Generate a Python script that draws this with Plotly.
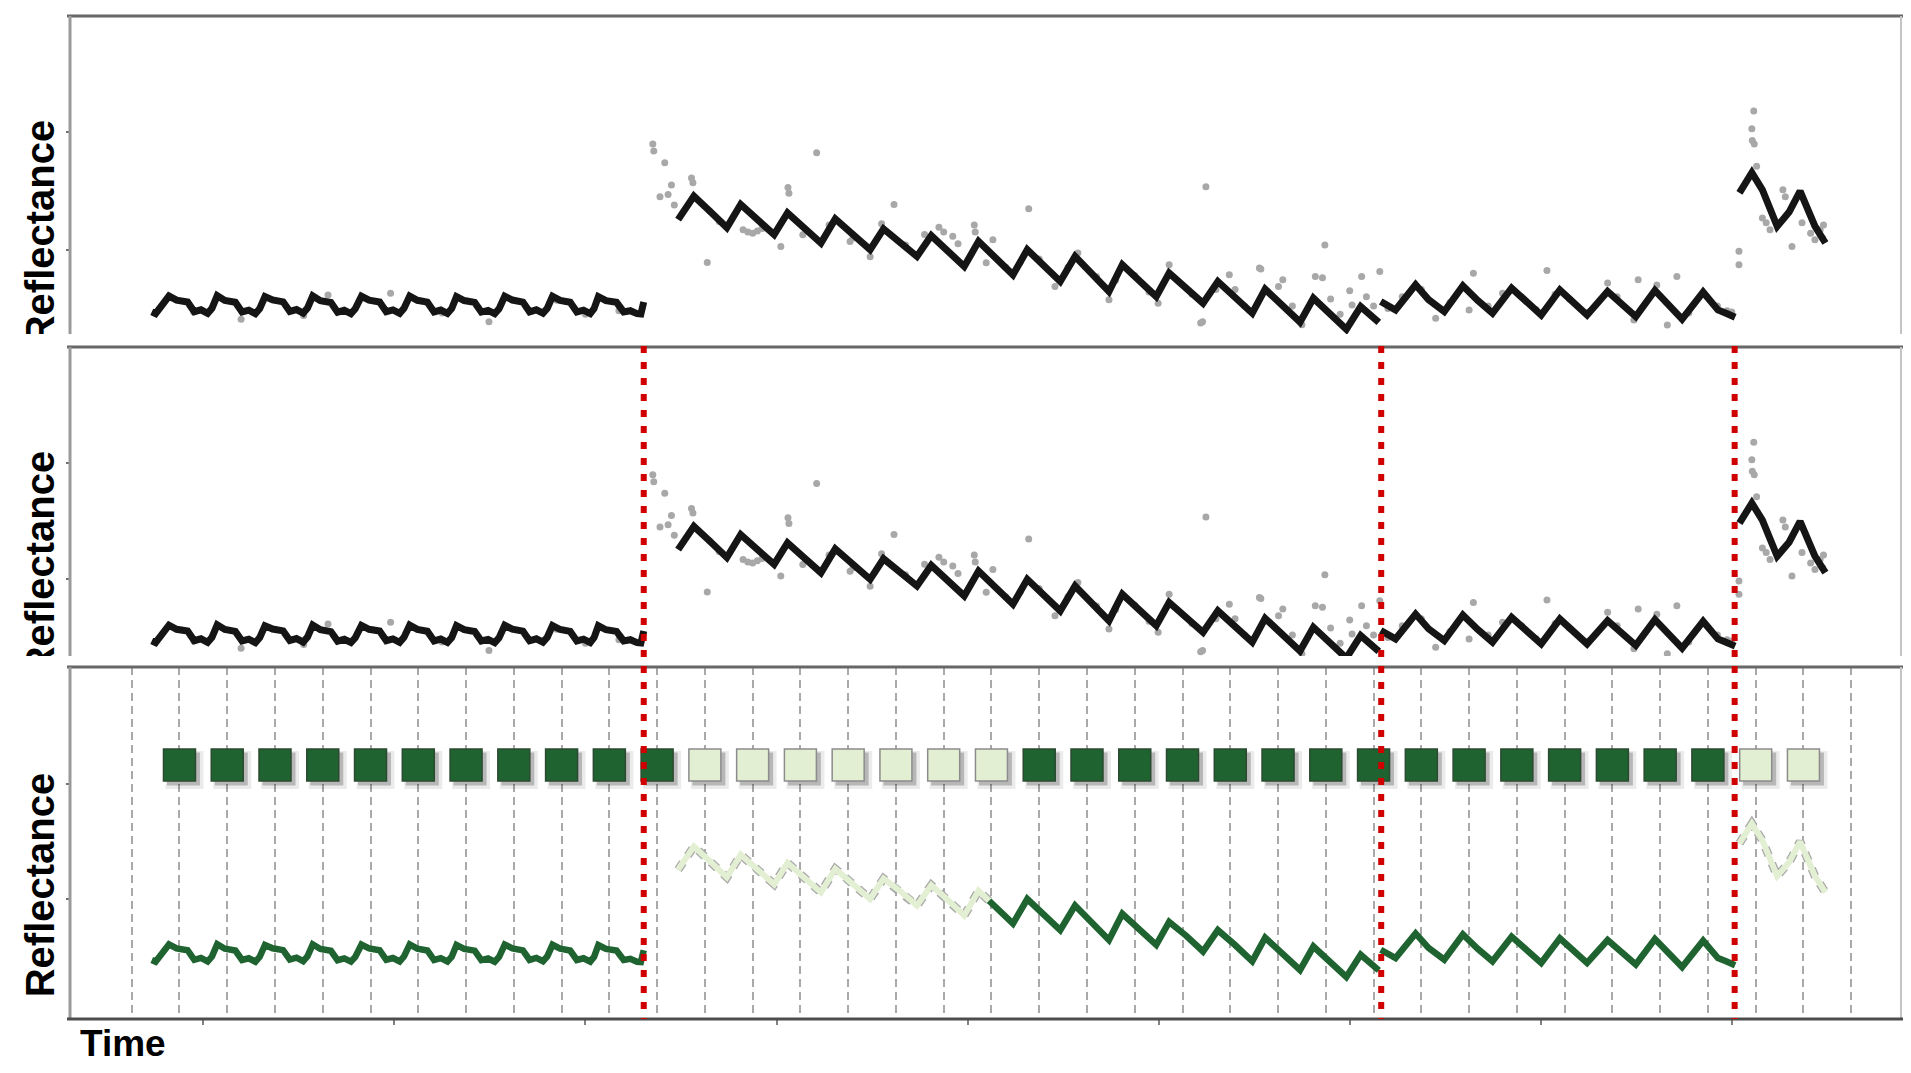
import plotly.graph_objects as go

# ------------------------------------------------------------------ data
# fitted model, segment 1 (stable)
seg1_x = [0.42, 0.50, 0.78, 0.94, 1.17, 1.31, 1.45, 1.59, 1.68,
          1.79, 1.95, 2.17, 2.31, 2.45, 2.59, 2.68,
          2.79, 2.95, 3.17, 3.31, 3.45, 3.59, 3.68,
          3.79, 3.95, 4.17, 4.31, 4.45, 4.59, 4.68,
          4.81, 4.97, 5.19, 5.33, 5.47, 5.61, 5.70,
          5.82, 5.98, 6.19, 6.33, 6.47, 6.61, 6.70,
          6.80, 6.96, 7.18, 7.32, 7.46, 7.60, 7.69,
          7.81, 7.97, 8.19, 8.33, 8.47, 8.61, 8.70,
          8.81, 8.97, 9.18, 9.32, 9.46, 9.60, 9.68,
          9.77, 9.93, 10.15, 10.30, 10.44, 10.58, 10.66, 10.72]
seg1_y = [0.0470, 0.0455, 0.0605, 0.0570, 0.0555, 0.0472, 0.0488, 0.0458, 0.0500,
          0.0608, 0.0568, 0.0552, 0.0470, 0.0485, 0.0455, 0.0498,
          0.0600, 0.0572, 0.0556, 0.0474, 0.0490, 0.0460, 0.0502,
          0.0606, 0.0566, 0.0550, 0.0468, 0.0484, 0.0456, 0.0497,
          0.0603, 0.0570, 0.0555, 0.0472, 0.0487, 0.0458, 0.0500,
          0.0605, 0.0569, 0.0553, 0.0470, 0.0486, 0.0457, 0.0499,
          0.0601, 0.0567, 0.0551, 0.0469, 0.0483, 0.0455, 0.0496,
          0.0604, 0.0571, 0.0554, 0.0471, 0.0488, 0.0459, 0.0501,
          0.0602, 0.0568, 0.0552, 0.0470, 0.0485, 0.0456, 0.0498,
          0.0600, 0.0566, 0.0552, 0.0470, 0.0480, 0.0455, 0.0452, 0.0555]

# segment 2 (disturbance + recovery trend)
seg2_x = [11.44, 11.77, 12.10, 12.46, 12.75, 13.10, 13.45, 13.73, 14.08, 14.43,
          14.73, 15.10, 15.46, 15.74, 16.10, 16.44, 16.74, 17.08, 17.43, 17.73,
          17.95, 18.45, 18.75, 19.10, 19.44, 19.75, 20.10, 20.46, 20.74, 21.10,
          21.45, 21.72, 22.08, 22.43, 22.74, 23.10, 23.46, 23.73, 24.10, 24.46,
          24.74, 25.08, 25.43, 25.73, 26.11]
seg2_y = [0.1256, 0.1456, 0.1330, 0.1188, 0.1385, 0.1262, 0.1128, 0.1314, 0.1190, 0.1057,
          0.1262, 0.1135, 0.1000, 0.1177, 0.1065, 0.0943, 0.1120, 0.0995, 0.0857, 0.1071,
          0.0985, 0.0786, 0.1000, 0.0870, 0.0729, 0.0943, 0.0800, 0.0644, 0.0872, 0.0740,
          0.0601, 0.0801, 0.0680, 0.0544, 0.0729, 0.0600, 0.0459, 0.0664, 0.0525, 0.0383,
          0.0587, 0.0460, 0.0322, 0.0516, 0.0380]

# segment 3 (stable)
seg3_x = [26.15, 26.46, 26.88, 27.15, 27.48, 27.87, 28.18, 28.49, 28.89, 29.20,
          29.51, 29.90, 30.18, 30.47, 30.90, 31.20, 31.49, 31.89, 32.18, 32.46,
          32.90, 33.21, 33.38, 33.57]
seg3_y = [0.0559, 0.0487, 0.0701, 0.0575, 0.0473, 0.0692, 0.0568, 0.0459, 0.0673, 0.0560,
          0.0444, 0.0658, 0.0552, 0.0444, 0.0644, 0.0540, 0.0431, 0.0653, 0.0525, 0.0408,
          0.0638, 0.0487, 0.0459, 0.0425]

# segment 4 (after last break)
seg4_x = [33.66, 33.92, 34.14, 34.45, 34.70, 34.93, 35.24, 35.46]
seg4_y = [0.1484, 0.1656, 0.1510, 0.1199, 0.1320, 0.1499, 0.1200, 0.1057]

# observations (grey points)
obs_x = [1.30, 2.29, 3.60, 4.11, 5.42, 6.50, 7.48, 8.90, 9.50, 10.20,
         10.91, 10.93, 11.06, 11.16, 11.23, 11.30, 11.36, 11.72, 11.75, 12.05,
         12.10, 12.30, 12.80, 12.90, 13.00, 13.10, 13.20, 13.59, 13.74, 13.76,
         14.05, 14.34, 14.60, 14.70, 15.04, 15.10, 15.46, 15.70, 15.96, 16.20,
         16.60, 16.90, 17.00, 17.19, 17.30, 17.64, 17.66, 17.89, 18.03, 18.30,
         18.60, 18.78, 19.00, 19.33, 19.60, 19.81, 20.20, 20.46, 20.60, 21.00,
         21.30, 21.49, 21.72, 22.20, 22.38, 22.42, 22.49, 22.70, 22.98, 23.10,
         23.30, 23.61, 23.64, 24.01, 24.10, 24.30, 24.50, 24.78, 24.93, 24.98,
         25.10, 25.30, 25.50, 25.55, 25.75, 25.85, 26.00, 26.13,
         26.30, 26.60, 27.00, 27.30, 27.60, 28.00, 28.09, 28.40, 28.70, 29.10,
         29.40, 29.63, 29.80, 30.10, 30.50, 30.90, 31.10, 31.45, 31.54, 31.93,
         32.15, 32.35, 32.60, 32.90, 33.20, 33.40, 33.50,
         33.65, 33.65, 33.96, 33.92, 33.93, 33.97, 34.02, 34.14, 34.22, 34.30,
         34.57, 34.62, 34.76, 34.97, 35.15, 35.24, 35.42, 35.35, 35.40]
obs_y = [0.0470, 0.0407, 0.0440, 0.0615, 0.0630, 0.0460, 0.0387, 0.0570, 0.0450, 0.0480,
         0.1900, 0.1840, 0.1450, 0.1740, 0.1470, 0.1550, 0.1380, 0.1610, 0.1570, 0.0890,
         0.1330, 0.1240, 0.1170, 0.1150, 0.1140, 0.1160, 0.1180, 0.1028, 0.1530, 0.1480,
         0.1128, 0.1826, 0.1210, 0.1240, 0.1070, 0.1100, 0.0940, 0.1220, 0.1385, 0.1040,
         0.1130, 0.1190, 0.1150, 0.1114, 0.1050, 0.1210, 0.1150, 0.0889, 0.1085, 0.0850,
         0.0890, 0.1348, 0.0920, 0.0686, 0.0850, 0.0972, 0.0770, 0.0573, 0.0740, 0.0780,
         0.0640, 0.0544, 0.0872, 0.0620, 0.0376, 0.0387, 0.1536, 0.0660, 0.0786, 0.0660,
         0.0520, 0.0844, 0.0835, 0.0686, 0.0744, 0.0520, 0.0360, 0.0772, 0.0760, 0.1040,
         0.0580, 0.0450, 0.0650, 0.0530, 0.0772, 0.0600, 0.0520, 0.0815,
         0.0500, 0.0600, 0.0660, 0.0416, 0.0550, 0.0487, 0.0800, 0.0520, 0.0630, 0.0600,
         0.0490, 0.0823, 0.0620, 0.0580, 0.0470, 0.0716, 0.0600, 0.0402, 0.0744, 0.0700,
         0.0359, 0.0772, 0.0460, 0.0620, 0.0520, 0.0480, 0.0470,
         0.0986, 0.0872, 0.2180, 0.2030, 0.1930, 0.1900, 0.1710, 0.1270, 0.1230, 0.1170,
         0.1510, 0.1450, 0.1028, 0.1230, 0.1140, 0.1085, 0.1210, 0.1170, 0.1100]

breaks = [10.72, 26.16, 33.56]          # detected breaks (red dotted lines)
class_change = 17.95                     # light -> dark class change in segment 2

year_lines = [0, 1, 2, 3, 4, 5, 6, 7, 8, 9, 10, 11, 12, 13, 14, 15, 16, 17, 18,
              19, 20, 21, 22, 23, 24, 25, 26, 27, 28, 29, 30, 31, 32, 33, 34, 35, 36]
square_years = [1, 2, 3, 4, 5, 6, 7, 8, 9, 10, 11, 12, 13, 14, 15, 16, 17, 18,
                19, 20, 21, 22, 23, 24, 25, 26, 27, 28, 29, 30, 31, 32, 33, 34, 35]
square_class = ['F', 'F', 'F', 'F', 'F', 'F', 'F', 'F', 'F', 'F', 'F',
                'N', 'N', 'N', 'N', 'N', 'N', 'N',
                'F', 'F', 'F', 'F', 'F', 'F', 'F', 'F', 'F', 'F', 'F', 'F', 'F', 'F', 'F',
                'N', 'N']
square_level = 0.2165
time_ticks = [1.5, 5.5, 9.5, 13.5, 17.5, 21.5, 25.5, 29.5, 33.5]
refl_ticks = [0.1, 0.2]

# ------------------------------------------------------------------ geometry
# page pixel positions; the page body has an 8px margin, so the figure is
# shrunk by 2*8 and every page position is shifted by 8
OFF = 8
W, H = 1911 - 2 * OFF, 1073 - 2 * OFF
X_LEFT = 70
PANELS = [(16, 334), (347, 656), (667, 1019)]     # (top px, bottom px)
YRANGES = [[0.0282, 0.299], [0.034, 0.300], [-0.0043, 0.3017]]
X0 = -1.292
PX_PER_X = 1839 / 38.502
X_RIGHT_PAGE = W + OFF
XRANGE = [X0, X0 + (X_RIGHT_PAGE - X_LEFT) / PX_PER_X]
PX_PER_Y3 = (PANELS[2][1] - PANELS[2][0]) / (YRANGES[2][1] - YRANGES[2][0])


def px_x(p):
    return (p - OFF) / W


def px_y(p):
    return 1 - (p - OFF) / H


DARK_GREEN = '#1f6331'
LIGHT_GREEN = '#e3efd3'
FONT = 'Liberation Sans, Arial, sans-serif'

fig = go.Figure()

# panels 1 & 2 : observations + fitted model
for k in (0, 1):
    xa = 'x' if k == 0 else 'x2'
    ya = 'y' if k == 0 else 'y2'
    fig.add_trace(go.Scatter(x=obs_x, y=obs_y, mode='markers',
                             marker=dict(size=7, color='#a8a8a8'),
                             xaxis=xa, yaxis=ya, hoverinfo='skip'))
    for sx, sy in ((seg1_x, seg1_y), (seg2_x, seg2_y), (seg3_x, seg3_y), (seg4_x, seg4_y)):
        fig.add_trace(go.Scatter(x=sx, y=sy, mode='lines',
                                 line=dict(color='#151515', width=7),
                                 xaxis=xa, yaxis=ya, hoverinfo='skip'))

# panel 3 : classified model
light_x = [v for v in seg2_x if v <= class_change]
light_y = [seg2_y[i] for i, v in enumerate(seg2_x) if v <= class_change]
dark2_x = [v for v in seg2_x if v >= class_change]
dark2_y = [seg2_y[i] for i, v in enumerate(seg2_x) if v >= class_change]

for sx, sy in ((light_x, light_y), (seg4_x, seg4_y)):
    fig.add_trace(go.Scatter(x=sx, y=sy, mode='lines',
                             line=dict(color='#a8a8a8', width=8.5, dash='dot'),
                             xaxis='x3', yaxis='y3', hoverinfo='skip'))
    fig.add_trace(go.Scatter(x=sx, y=sy, mode='lines',
                             line=dict(color=LIGHT_GREEN, width=6),
                             xaxis='x3', yaxis='y3', hoverinfo='skip'))
for sx, sy in ((seg1_x, seg1_y), (dark2_x, dark2_y), (seg3_x, seg3_y)):
    fig.add_trace(go.Scatter(x=sx, y=sy, mode='lines',
                             line=dict(color=DARK_GREEN, width=6.5),
                             xaxis='x3', yaxis='y3', hoverinfo='skip'))

# class squares with drop shadow
sq_y = [square_level] * len(square_years)
for off, size, col in ((5, 38, 'rgba(0,0,0,0.08)'), (4, 33, 'rgba(0,0,0,0.22)')):
    fig.add_trace(go.Scatter(
        x=[v + off / PX_PER_X for v in square_years],
        y=[v - off / PX_PER_Y3 for v in sq_y],
        mode='markers', marker=dict(symbol='square', size=size, color=col, line=dict(width=0)),
        xaxis='x3', yaxis='y3', hoverinfo='skip'))
fig.add_trace(go.Scatter(
    x=square_years, y=sq_y, mode='markers',
    marker=dict(symbol='square', size=32,
                color=[DARK_GREEN if c == 'F' else LIGHT_GREEN for c in square_class],
                line=dict(color=['#2b4a31' if c == 'F' else '#8c8c8c' for c in square_class], width=1.5)),
    xaxis='x3', yaxis='y3', hoverinfo='skip'))

# y-axis labels, clipped to each panel like the reference
label_centres = [0.3208, 0.301, 0.3807]
for i, c in enumerate(label_centres):
    fig.add_trace(go.Bar(
        x=[0], y=[0.2], base=[c - 0.1], width=[0.2],
        marker=dict(color='rgba(0,0,0,0)', line=dict(width=0)),
        text=['Reflectance'], textposition='inside', textangle=-90,
        insidetextanchor='middle', constraintext='none',
        insidetextfont=dict(family=FONT, size=40, color='#000000', weight='bold'),
        cliponaxis=True, xaxis='x%d' % (4 + i), yaxis='y%d' % (4 + i), hoverinfo='skip'))

# ------------------------------------------------------------------ axes
layout = dict(width=W, height=H, margin=dict(l=0, r=0, t=0, b=0, pad=0),
              paper_bgcolor='white', plot_bgcolor='white', showlegend=False,
              bargap=0)
axis_names = [('xaxis', 'yaxis', 'y', 'x'), ('xaxis2', 'yaxis2', 'y2', 'x2'),
              ('xaxis3', 'yaxis3', 'y3', 'x3')]
for i, (xn, yn, yref, xref) in enumerate(axis_names):
    top, bot = PANELS[i]
    xd = dict(domain=[px_x(X_LEFT), 1.0], range=XRANGE, anchor=yref,
              showgrid=False, zeroline=False, showline=False, showticklabels=False,
              ticks='', fixedrange=True)
    if i == 2:
        xd.update(ticks='outside', tickmode='array', tickvals=time_ticks, ticklen=5,
                  tickwidth=1.5, tickcolor='#808080',
                  minor=dict(tickmode='array', tickvals=year_lines, showgrid=True,
                             gridcolor='#a9a9a9', gridwidth=1.5, griddash='8px,5px', ticks=''))
    layout[xn] = xd
    layout[yn] = dict(domain=[px_y(bot), px_y(top)], range=YRANGES[i], anchor=xref,
                      showgrid=False, zeroline=False, showline=False, showticklabels=False,
                      ticks='outside', tickmode='array', tickvals=refl_ticks, ticklen=3,
                      tickwidth=2, tickcolor='#707070', fixedrange=True)
lab_w = X_LEFT - 1 - OFF
for i in range(3):
    top, bot = PANELS[i]
    zero_frac = (40 - OFF) / lab_w
    layout['xaxis%d' % (4 + i)] = dict(domain=[0, px_x(X_LEFT - 1)], range=[-zero_frac, 1 - zero_frac],
                                       anchor='y%d' % (4 + i), visible=False, fixedrange=True)
    layout['yaxis%d' % (4 + i)] = dict(domain=[px_y(bot), px_y(top)], range=[0, 1],
                                       anchor='x%d' % (4 + i), visible=False, fixedrange=True)

# ------------------------------------------------------------------ frame lines
shapes = []
for i, (top, bot) in enumerate(PANELS):
    shapes.append(dict(type='line', xref='paper', yref='paper', x0=px_x(X_LEFT - 3), x1=1.0,
                       y0=px_y(top), y1=px_y(top), line=dict(color='#676767', width=3), layer='above'))
    shapes.append(dict(type='line', xref='paper', yref='paper', x0=px_x(X_LEFT), x1=px_x(X_LEFT),
                       y0=px_y(top), y1=px_y(bot), line=dict(color='#9a9a9a', width=3), layer='above'))
    shapes.append(dict(type='line', xref='paper', yref='paper', x0=px_x(1901), x1=px_x(1901),
                       y0=px_y(top), y1=px_y(bot), line=dict(color='#c4c4c4', width=2), layer='above'))
shapes.append(dict(type='line', xref='paper', yref='paper', x0=px_x(X_LEFT - 3), x1=1.0,
                   y0=px_y(PANELS[2][1]), y1=px_y(PANELS[2][1]),
                   line=dict(color='#4d4d4d', width=3), layer='above'))
for b in breaks:
    shapes.append(dict(type='line', xref='x3', yref='paper', x0=b, x1=b,
                       y0=px_y(PANELS[1][0] - 1), y1=px_y(PANELS[2][1]),
                       line=dict(color='#d00000', width=6, dash='7px,9px'), layer='above'))
layout['shapes'] = shapes

layout['annotations'] = [dict(text='Time', xref='paper', yref='paper',
                              x=px_x(123), y=px_y(1043), xanchor='center', yanchor='middle',
                              showarrow=False, borderpad=0, borderwidth=0,
                              font=dict(family=FONT, size=37, color='#000000', weight='bold'))]

fig.update_layout(**layout)
fig.write_html("out.html")
